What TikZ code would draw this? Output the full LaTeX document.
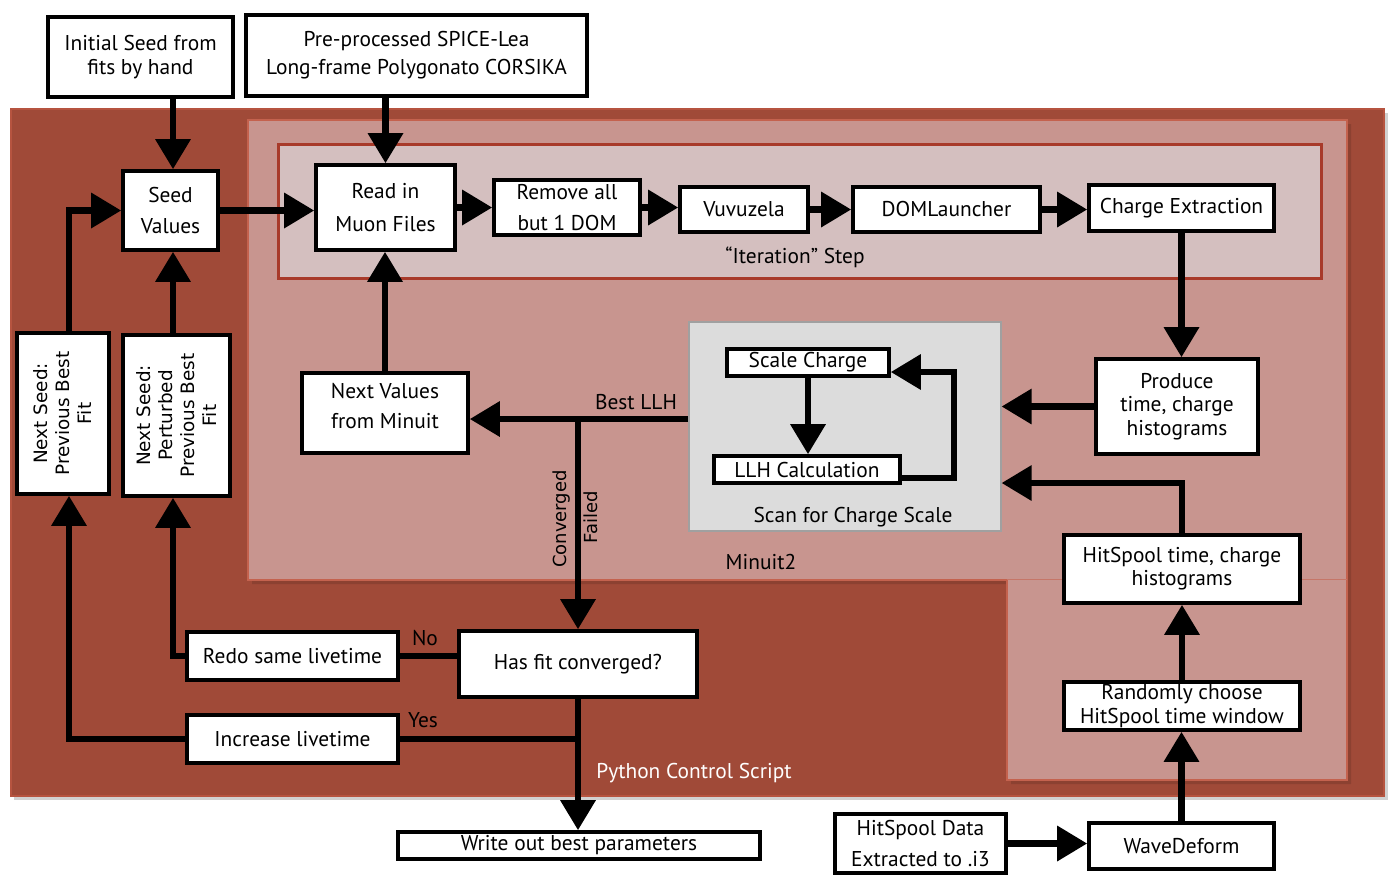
\documentclass[tikz,border=0pt]{standalone}
\usepackage{fontspec}
\setmainfont{PT Sans}
\newfontfamily\dejavu{DejaVu Sans}
\usetikzlibrary{arrows.meta,shadows,calc}
\definecolor{outerred}{RGB}{160,74,56}
\definecolor{outeredge}{RGB}{182,84,64}
\definecolor{minuitc}{RGB}{200,149,143}
\definecolor{minuitedge}{RGB}{196,98,78}
\definecolor{iterc}{RGB}{212,191,191}
\definecolor{iteredge}{RGB}{168,58,42}
\definecolor{scanc}{RGB}{220,220,220}
\definecolor{scanedge}{RGB}{160,160,160}
\begin{document}
\begin{tikzpicture}[x=0.5pt,y=-0.5pt,
 box/.style={draw=black,line width=1.8pt,fill=white,inner sep=0pt,align=center,font=\fontsize{10.7}{11.6}\selectfont},
 arr/.style={line width=3.2pt,-{Triangle[length=15pt,width=17pt]}},
 ln/.style={line width=3.2pt},
 lab/.style={font=\fontsize{10.7}{11.6}\selectfont,inner sep=0pt},
 rot/.style={font=\dejavu\fontsize{9.2}{11}\selectfont,rotate=90,align=center,inner sep=0pt}]
\useasboundingbox (0,0) rectangle (1394,880);
% regions
\fill[black,opacity=0.18] (14,113) rectangle (1388,800);
\node[draw=outeredge,line width=1pt,fill=outerred,anchor=north west,inner sep=0pt,
      minimum width=686.5pt,minimum height=343.5pt] (python) at (10,108) {};
\fill[black,opacity=0.12] (252,124) -- (1351,124) -- (1351,784) -- (1011,784) -- (1011,584) -- (252,584) -- cycle;
\filldraw[fill=minuitc,draw=minuitedge,line width=1pt]
  (248,120) -- (1347,120) -- (1347,780) -- (1007,780) -- (1007,580) -- (248,580) -- cycle;
\draw[color=minuitedge!60!minuitc,line width=0.5pt] (1007,579) -- (1347,579);
\node[fill=iterc,draw=iteredge,line width=1.5pt,anchor=north west,inner sep=0pt,
      minimum width=521.5pt,minimum height=67pt] (iter) at (277,143) {};
\node[fill=scanc,draw=scanedge,line width=0.8pt,anchor=north west,inner sep=0pt,
      minimum width=156pt,minimum height=104.5pt] (scan) at (688,321) {};
% boxes
\node[box,minimum width=92.5pt,minimum height=40pt] (init) at (140.5,57) {Initial Seed from\\fits by hand};
\node[box,minimum width=170.5pt,minimum height=40.5pt] (pre) at (416.5,55.5) {Pre-processed SPICE-Lea\\[2.5pt]Long-frame Polygonato CORSIKA};
\node[box,minimum width=47.5pt,minimum height=39.5pt] (seed) at (170.5,210.5) {Seed\\[3.5pt]Values};
\node[box,minimum width=69.5pt,minimum height=42.5pt] (readin) at (385.5,207.5) {Read in\\[4.5pt]Muon Files};
\node[box,minimum width=73pt,minimum height=27.5pt] (remove) at (567,207.5) {Remove all\\[3.5pt]but 1 DOM};
\node[box,minimum width=64pt,minimum height=22.5pt] (vuvu) at (744,209.5) {Vuvuzela};
\node[box,minimum width=93.5pt,minimum height=22.5pt] (domL) at (946.5,209.5) {DOMLauncher};
\node[box,minimum width=92.5pt,minimum height=23pt] (charge) at (1181.5,208) {Charge Extraction};
\node[box,minimum width=81pt,minimum height=47.5pt] (produce) at (1177,406.5) {Produce\\time, charge\\histograms};
\node[box,minimum width=81pt,minimum height=13.5pt] (scale) at (808,362.5) {Scale Charge};
\node[box,minimum width=93pt,minimum height=13.5pt] (llh) at (807,469.5) {LLH Calculation};
\node[box,minimum width=83pt,minimum height=40pt] (nextval) at (385,413) {};
\node[lab,align=center] at (385,406) {Next Values\\[3.5pt]from Minuit};
\node[box,minimum width=46pt,minimum height=80.5pt] (ns1) at (63,413.5) {};
\node[rot] at (63,413.5) {Next Seed:\\Previous Best\\Fit};
\node[box,minimum width=53.5pt,minimum height=80.5pt] (ns2) at (176.5,415.5) {};
\node[rot] at (176.5,415.5) {Next Seed:\\Perturbed\\Previous Best\\Fit};
\node[box,minimum width=119pt,minimum height=33pt] (hasfit) at (578,664) {Has fit converged?};
\node[box,minimum width=105.5pt,minimum height=24pt] (redo) at (292.5,656) {Redo same livetime};
\node[box,minimum width=105.5pt,minimum height=24pt] (incr) at (292.5,739) {Increase livetime};
\node[box,minimum width=181pt,minimum height=13.5pt] (write) at (579,845.5) {Write out best parameters};
\node[box,minimum width=118pt,minimum height=34pt] (hsh) at (1182,569) {HitSpool time, charge\\histograms};
\node[box,minimum width=118pt,minimum height=24pt] (rand) at (1182,706) {Randomly choose\\HitSpool time window};
\node[box,minimum width=92.5pt,minimum height=23pt] (wave) at (1181.5,846) {WaveDeform};
\node[box,minimum width=85.5pt,minimum height=29.5pt] (hsd) at (920.5,843.5) {HitSpool Data\\[3.5pt]Extracted to .i3};
% labels
\node[lab] at (795,257) {“Iteration” Step};
\node[lab] at (853,517) {Scan for Charge Scale};
\node[lab] at (761,562) {Minuit2};
\node[lab,text=white] at (694,773) {Python Control Script};
\node[lab] at (636,402) {Best LLH};
\node[lab] at (425,638) {No};
\node[lab] at (423,720) {Yes};
\node[rot,font=\dejavu\fontsize{9}{11}\selectfont] at (562,519) {Converged};
\node[rot,font=\dejavu\fontsize{9}{11}\selectfont] at (591,517) {Failed};
% connectors
\coordinate (hy) at (0,483);
\coordinate (bly) at (0,419);
\coordinate (x1) at (69,0);
\coordinate (x2) at (173,0);
\draw[arr] (x2 |- init.south) -- (x2 |- seed.north);
\draw[arr] (readin.north |- pre.south) -- (readin.north);
\draw[arr] (seed.east) -- (seed.east -| readin.west);
\draw[arr] (readin.east) -- (readin.east -| remove.west);
\draw[arr] (remove.east) -- (remove.east -| vuvu.west);
\draw[arr] (vuvu.east) -- (domL.west);
\draw[arr] (domL.east) -- (domL.east -| charge.west);
\draw[arr] (charge.south) -- (charge.south |- produce.north);
\draw[arr] (produce.west) -- (produce.west -| scan.east);
\draw[arr] (hsh.north) |- (scan.east |- hy);
\draw[arr] (scale.south) -- (scale.south |- llh.north);
\draw[arr] ([yshift=-4.25pt]llh.east) -- ++(52,0) |- ([yshift=-4.75pt]scale.east);
\draw[arr] (scan.west |- bly) -- (nextval.east |- bly);
\draw[arr] (nextval.north) -- (nextval.north |- readin.south);
\draw[arr] (hasfit.north |- bly) -- (hasfit.north);
\draw[ln] (redo.east) -- (redo.east -| hasfit.west);
\draw[arr] (redo.west) -| (x2 |- ns2.south);
\draw[arr] (x2 |- ns2.north) -- (x2 |- seed.south);
\draw[arr] (hasfit.south) -- (hasfit.south |- write.north);
\draw[ln] (hasfit.south |- incr.east) -- (incr.east);
\draw[arr] (incr.west) -| (x1 |- ns1.south);
\draw[arr] (x1 |- ns1.north) |- (seed.west);
\draw[arr] (rand.north) -- (hsh.south);
\draw[arr] (wave.north) -- (wave.north |- rand.south);
\draw[arr] (hsd.east) -- (hsd.east -| wave.west);
\end{tikzpicture}
\end{document}
